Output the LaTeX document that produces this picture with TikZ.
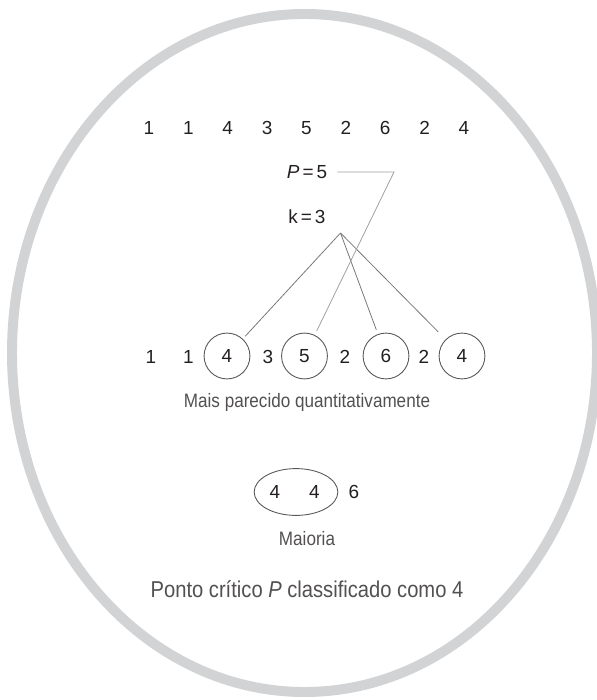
\documentclass[tikz,border=0pt]{standalone}
\usepackage{fontspec}
\setmainfont{Liberation Sans}
\newfontfamily\labfont{Liberation Sans}[FakeStretch=0.88]
\usetikzlibrary{shapes.geometric}
\definecolor{ringgray}{RGB}{209,211,212}
\definecolor{ink}{RGB}{35,31,32}
\definecolor{linkgray}{RGB}{120,120,120}
\definecolor{plinkgray}{RGB}{160,160,160}
\definecolor{circgray}{RGB}{90,90,90}
\tikzset{
  num/.style={inner sep=0pt, text=ink, font=\fontsize{19}{22}\selectfont},
  circnum/.style={num, circle, draw=circgray, line width=0.9pt, minimum size=46},
  label/.style={inner sep=0pt, text=ink!78, font=\labfont\fontsize{19.5}{22}\selectfont},
  biglabel/.style={inner sep=0pt, text=ink!78, font=\labfont\fontsize{23}{26}\selectfont},
  link/.style={draw=linkgray, line width=0.8pt},
  plink/.style={draw=plinkgray, line width=0.8pt},
}
\begin{document}
\begin{tikzpicture}[x=1bp, y=-1bp]
\useasboundingbox (0,0) rectangle (597,700);
\draw[ringgray, line width=10] (304.5,353) ellipse [x radius=292.5, y radius=339];
% top row
\foreach \v [count=\i from 0] in {1,1,4,3,5,2,6,2,4}
  \node[num] (t\i) at (149+39.375*\i,128) {\v};
\node[num] (pnode) at (307,172) {\textit{P}\kern3pt=\kern3pt5};
\node[num] (knode) at (307,217) {k\kern3pt=\kern3pt3};
\coordinate (apex) at (340.5,233);
\coordinate (bend) at (394,172);
% second row
\node[num] (s1) at (151,357) {1};
\node[num] (s2) at (188.5,357) {1};
\node[circnum] (c1) at (227,356) {4};
\node[num] (s3) at (268,357) {3};
\node[circnum] (c2) at (304.5,356) {5};
\node[num] (s4) at (345,357) {2};
\node[circnum] (c3) at (386,356) {6};
\node[num] (s5) at (424,357) {2};
\node[circnum] (c4) at (462,356) {4};
% connectors
\draw[link, shorten >=27] (apex) -- (c1.center);
\draw[link, shorten >=28] (apex) -- (c3.center);
\draw[link, shorten >=34] (apex) -- (c4.center);
\draw[plink, shorten >=28] ([xshift=10]pnode.east) -- (bend) -- (c2.center);
\node[label] (lab1) at (307,402) {Mais parecido quantitativamente};
% majority
\node[draw=circgray, line width=0.9pt, ellipse, minimum width=84, minimum height=47, inner sep=0pt] (maj) at (296,492) {};
\node[num] (m1) at (275,492) {4};
\node[num] (m2) at (314.5,492) {4};
\node[num] (m3) at (354,492) {6};
\node[label] (lab2) at (307,539) {Maioria};
\node[biglabel] (lab3) at (307,589) {Ponto crítico \textit{P} classificado como 4};
\end{tikzpicture}
\end{document}
